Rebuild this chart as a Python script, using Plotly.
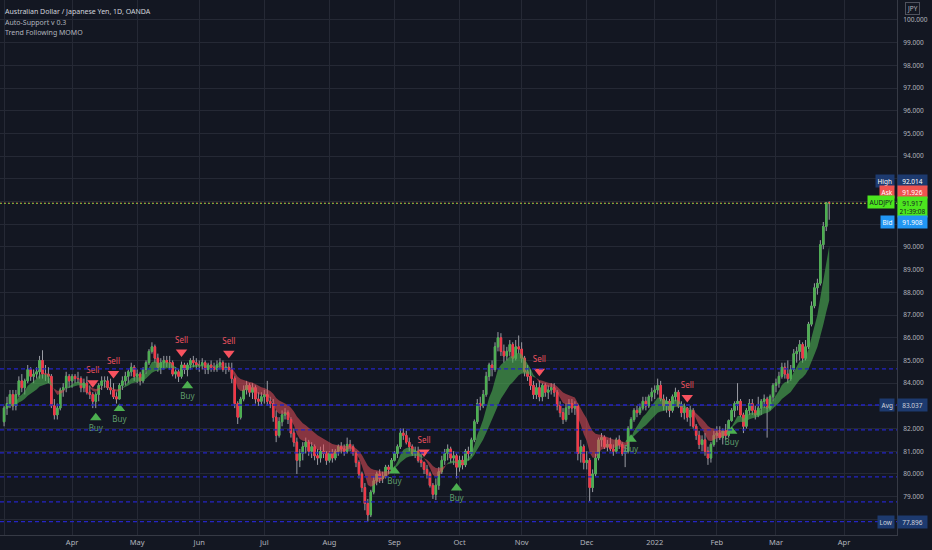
import plotly.graph_objs as go
import pandas as pd

# AUDJPY daily, OANDA, 1 Mar 2021 - 25 Mar 2022 (weekdays only)
days = pd.bdate_range('2021-03-01', '2022-03-25')

open_ = [
    82.3, 82.9, 83.1, 83.5, 83.0, 83.5, 84.1, 83.8, 84.1, 84.6, 84.3, 84.4, 84.5, 85.0, 84.4, 84.4, 84.3, 83.0, 82.6, 82.9, 83.7, 83.8, 84.3,
    84.1, 84.3, 84.2, 84.2, 83.8, 84.0, 83.6, 83.5, 83.2, 83.5, 83.9, 84.1, 84.1, 83.8, 83.7, 83.4, 83.3, 83.9, 84.1, 84.3, 84.5, 84.7,
    84.3, 84.4, 84.1, 84.6, 84.9, 85.4, 85.6, 85.1, 84.7, 84.9, 85.0, 84.9, 84.9, 84.4, 84.5, 84.3, 84.8, 84.6, 84.8, 85.0, 84.9,
    84.8, 84.8, 84.9, 84.6, 84.8, 84.7, 84.6, 84.8, 84.9, 84.6, 84.7, 84.6, 84.2, 83.1, 82.5, 83.3, 83.7, 83.9, 83.6, 83.8, 83.3, 83.2,
    83.4, 83.5, 83.2, 83.1, 82.5, 81.7, 82.3, 82.6, 82.7, 82.4, 81.8, 81.4, 80.6, 80.9, 81.2, 81.4, 81.0, 81.2, 80.8, 80.7, 81.0, 80.9,
    80.6, 80.9, 80.7, 81.0, 81.2, 81.1, 81.0, 81.3, 81.2, 80.9, 80.5, 80.0, 79.4, 78.7, 78.2, 79.2, 79.7, 80.0, 79.8, 79.9, 80.3, 80.2,
    80.6, 80.9, 81.2, 81.8, 81.7, 81.4, 81.2, 80.9, 81.0, 80.6, 80.5, 80.2, 80.0, 79.5, 79.1, 79.5, 80.1, 80.6, 80.9, 81.1, 80.7, 80.8,
    80.3, 80.6, 80.4, 81.0, 80.9, 81.5, 82.3, 83.1, 83.0, 83.5, 84.3, 84.8, 84.6, 85.6, 86.0, 85.4, 85.2, 85.4, 85.7, 85.1, 85.6,
    85.5, 85.1, 84.5, 84.3, 83.9, 83.5, 83.8, 83.4, 83.9, 83.6, 83.7, 83.8, 83.6, 83.0, 82.7, 82.4, 82.9, 83.1, 82.9, 83.0, 80.9, 81.2,
    80.5, 80.6, 79.4, 80.0, 80.7, 81.5, 81.6, 81.2, 81.3, 81.1, 81.0, 81.5, 81.3, 80.9, 81.0, 82.0, 82.4, 82.8, 82.7, 82.9, 83.2, 83.0, 83.4,
    83.6, 83.7, 83.9, 83.3, 83.0, 83.2, 82.8, 83.4, 83.6, 83.0, 82.7, 82.9, 82.5, 82.8, 82.1, 81.7, 81.3, 81.5, 81.0, 80.7, 81.3,
    81.7, 81.8, 81.6, 81.9, 81.7, 82.35, 82.8, 83.1, 83.2, 82.6, 82.1, 82.8, 83.1, 82.8, 82.6, 82.9, 83.2, 83.3, 82.9, 83.4,
    83.9, 84.0, 84.3, 84.7, 84.4, 84.2, 84.6, 85.3, 85.4, 85.7, 85.1, 85.6, 86.6, 87.4, 88.2, 88.4, 90.1, 90.9, 91.95,
]
high = [
    83.0, 83.4, 83.7, 83.7, 83.7, 84.3, 84.4, 84.2, 84.8, 84.7, 84.6, 84.7, 85.2, 85.45, 84.8, 84.7, 84.4, 83.3, 83.1, 83.8, 84.0, 84.5, 84.4,
    84.4, 84.4, 84.5, 84.3, 84.2, 84.3, 83.9, 83.6, 83.6, 84.0, 84.3, 84.3, 84.3, 84.2, 84.0, 83.6, 84.0, 84.3, 84.5, 84.6, 84.9, 84.8,
    84.6, 84.5, 84.7, 85.0, 85.5, 85.8, 85.7, 85.3, 85.1, 85.2, 85.2, 85.2, 85.0, 84.7, 84.6, 84.95, 84.9, 84.9, 85.1, 85.2, 85.1,
    85.0, 85.1, 85.0, 84.9, 85.0, 84.9, 85.0, 85.1, 85.0, 84.9, 84.9, 84.9, 84.3, 83.2, 83.4, 83.9, 84.1, 84.0, 84.0, 83.9, 83.6, 83.6,
    83.7, 84.1, 83.4, 83.3, 82.8, 82.5, 82.8, 82.9, 82.8, 82.5, 82.0, 81.6, 81.1, 81.4, 81.6, 81.5, 81.4, 81.3, 81.1, 81.2, 81.3, 81.0,
    81.0, 81.1, 81.1, 81.3, 81.4, 81.3, 81.6, 81.5, 81.3, 81.0, 80.6, 80.1, 79.6, 78.9, 79.3, 79.9, 80.1, 80.2, 80.1, 80.4, 80.4, 80.7,
    81.0, 81.3, 82.0, 82.0, 81.9, 81.6, 81.3, 81.2, 81.2, 80.9, 80.55, 80.4, 80.1, 79.6, 79.8, 80.3, 80.8, 81.1, 81.3, 81.2, 81.0, 80.9,
    80.8, 80.8, 81.1, 81.2, 81.6, 82.4, 83.3, 83.4, 83.7, 84.5, 84.9, 85.0, 85.8, 86.25, 86.2, 85.7, 85.6, 85.9, 85.8, 85.9, 86.1,
    85.8, 85.2, 84.8, 84.6, 84.1, 84.0, 84.1, 84.0, 84.0, 83.9, 84.0, 84.0, 83.7, 83.2, 82.9, 83.1, 83.3, 83.3, 83.2, 83.1, 81.5, 81.3,
    81.0, 80.7, 80.2, 80.9, 81.6, 81.8, 81.7, 81.5, 81.6, 81.3, 81.6, 81.7, 81.4, 81.2, 82.1, 82.5, 82.9, 83.0, 83.1, 83.4, 83.4, 83.5, 83.8,
    83.9, 84.2, 84.1, 83.5, 83.4, 83.3, 83.5, 83.8, 83.7, 83.2, 83.1, 82.95, 83.0, 82.9, 82.2, 81.9, 81.7, 81.8, 81.2, 81.4, 81.9,
    82.1, 82.1, 82.0, 82.2, 82.4, 82.9, 83.2, 84.0, 83.3, 82.7, 82.9, 83.3, 83.3, 83.0, 83.4, 83.3, 83.5, 83.4, 83.5, 84.0,
    84.2, 84.5, 84.9, 84.9, 85.0, 84.8, 85.5, 85.6, 85.9, 85.8, 85.9, 86.7, 87.6, 88.4, 88.6, 90.3, 91.1, 91.98, 92.014,
]
low = [
    82.1, 82.6, 82.9, 82.8, 82.8, 83.4, 83.6, 83.5, 84.0, 84.1, 84.0, 84.2, 84.2, 84.2, 84.1, 84.0, 82.9, 82.4, 82.4, 82.8, 83.4, 83.6, 83.8,
    83.8, 84.0, 84.0, 83.6, 83.6, 83.5, 83.3, 82.9, 82.9, 83.2, 83.7, 83.8, 83.7, 83.5, 83.3, 83.1, 83.3, 83.7, 83.9, 84.0, 84.3, 84.1,
    84.0, 83.9, 84.0, 84.4, 84.8, 85.3, 84.9, 84.5, 84.4, 84.6, 84.7, 84.6, 84.3, 84.2, 84.05, 84.2, 84.4, 84.3, 84.6, 84.7, 84.6,
    84.5, 84.6, 84.4, 84.4, 84.5, 84.5, 84.5, 84.6, 84.5, 84.4, 84.5, 84.0, 82.9, 82.2, 82.4, 83.2, 83.5, 83.4, 83.3, 83.1, 83.0, 83.0,
    83.1, 83.0, 82.9, 82.3, 81.4, 81.6, 82.1, 82.4, 82.2, 81.6, 81.2, 80.0, 80.3, 80.6, 80.9, 80.8, 80.7, 80.6, 80.4, 80.5, 80.7, 80.4,
    80.5, 80.5, 80.6, 80.8, 80.9, 80.8, 80.9, 81.0, 80.8, 80.3, 79.8, 79.2, 78.4, 77.896, 78.1, 79.1, 79.5, 79.6, 79.6, 79.8, 80.0, 80.1,
    80.55, 80.7, 81.1, 81.5, 81.3, 81.0, 80.8, 80.7, 80.5, 80.3, 80.0, 79.8, 79.4, 78.9, 78.85, 79.3, 80.0, 80.4, 80.6, 80.5, 80.4, 79.8,
    80.1, 80.2, 80.3, 80.6, 80.8, 81.4, 82.2, 82.8, 82.9, 83.4, 84.1, 84.3, 84.5, 85.4, 85.2, 84.9, 85.0, 85.2, 84.9, 85.0, 85.3,
    84.9, 84.3, 84.1, 83.7, 83.3, 83.3, 83.2, 83.2, 83.4, 83.3, 83.5, 83.4, 82.8, 82.5, 82.2, 82.3, 82.6, 82.7, 82.6, 80.6, 80.5, 80.2,
    80.2, 78.8, 79.2, 79.9, 80.6, 81.2, 81.1, 81.0, 81.0, 80.8, 80.9, 81.1, 80.8, 80.3, 80.9, 81.95, 82.3, 82.5, 82.6, 82.8, 82.8, 82.9, 83.2,
    83.3, 83.5, 83.2, 82.8, 82.7, 82.5, 82.7, 83.2, 82.9, 82.5, 82.4, 82.3, 82.1, 82.0, 81.5, 81.1, 81.0, 80.8, 80.4, 80.5, 81.2,
    81.4, 81.5, 81.3, 81.5, 81.6, 82.3, 82.5, 82.8, 82.5, 81.8, 82.0, 82.6, 82.6, 82.4, 82.5, 82.6, 82.9, 81.6, 82.8, 83.2,
    83.6, 83.8, 84.2, 84.2, 84.0, 84.1, 84.5, 84.9, 85.0, 84.9, 85.0, 85.5, 86.5, 87.3, 87.9, 88.3, 89.9, 90.7, 91.2,
]
close = [
    82.9, 83.1, 83.5, 83.0, 83.5, 84.1, 83.8, 84.1, 84.6, 84.3, 84.4, 84.5, 85.0, 84.4, 84.4, 84.3, 83.0, 82.6, 82.9, 83.7, 83.8, 84.3, 84.1,
    84.3, 84.2, 84.2, 83.8, 84.0, 83.6, 83.5, 83.2, 83.5, 83.9, 84.1, 84.1, 83.8, 83.7, 83.4, 83.3, 83.9, 84.1, 84.3, 84.5, 84.7, 84.3,
    84.4, 84.1, 84.6, 84.9, 85.4, 85.6, 85.1, 84.7, 84.9, 85.0, 84.9, 84.9, 84.4, 84.5, 84.3, 84.8, 84.6, 84.8, 85.0, 84.9, 84.8,
    84.8, 84.9, 84.6, 84.8, 84.7, 84.6, 84.8, 84.9, 84.6, 84.7, 84.6, 84.2, 83.1, 82.5, 83.3, 83.7, 83.9, 83.6, 83.8, 83.3, 83.2, 83.4,
    83.5, 83.2, 83.1, 82.5, 81.7, 82.3, 82.6, 82.7, 82.4, 81.8, 81.4, 80.6, 80.9, 81.2, 81.4, 81.0, 81.2, 80.8, 80.7, 81.0, 80.9, 80.6,
    80.9, 80.7, 81.0, 81.2, 81.1, 81.0, 81.3, 81.2, 80.9, 80.5, 80.0, 79.4, 78.7, 78.2, 79.2, 79.7, 80.0, 79.8, 79.9, 80.3, 80.2, 80.6,
    80.9, 81.2, 81.8, 81.7, 81.4, 81.2, 80.9, 81.0, 80.6, 80.5, 80.2, 80.0, 79.5, 79.1, 79.5, 80.1, 80.6, 80.9, 81.1, 80.7, 80.8, 80.3,
    80.6, 80.4, 81.0, 80.9, 81.5, 82.3, 83.1, 83.0, 83.5, 84.3, 84.8, 84.6, 85.6, 86.0, 85.4, 85.2, 85.4, 85.7, 85.1, 85.6, 85.5,
    85.1, 84.5, 84.3, 83.9, 83.5, 83.8, 83.4, 83.9, 83.6, 83.7, 83.8, 83.6, 83.0, 82.7, 82.4, 82.9, 83.1, 82.9, 83.0, 80.9, 81.2, 80.5,
    80.6, 79.4, 80.0, 80.7, 81.5, 81.6, 81.2, 81.3, 81.1, 81.0, 81.5, 81.3, 80.9, 81.0, 82.0, 82.4, 82.8, 82.7, 82.9, 83.2, 83.0, 83.4, 83.6,
    83.7, 83.9, 83.3, 83.0, 83.2, 82.8, 83.4, 83.6, 83.0, 82.7, 82.9, 82.5, 82.8, 82.1, 81.7, 81.3, 81.5, 81.0, 80.7, 81.3, 81.7,
    81.8, 81.6, 81.9, 81.7, 82.35, 82.8, 83.1, 83.2, 82.6, 82.1, 82.8, 83.1, 82.8, 82.6, 82.9, 83.2, 83.3, 82.9, 83.4, 83.9,
    84.0, 84.3, 84.7, 84.4, 84.2, 84.6, 85.3, 85.4, 85.7, 85.1, 85.6, 86.6, 87.4, 88.2, 88.4, 90.1, 90.9, 91.95, 91.917,
]

# Buy / Sell markers of the Trend Following MOMO script
signal_days = ['2021-04-12', '2021-04-13', '2021-04-21', '2021-04-23', '2021-05-24', '2021-05-26', '2021-06-15',
               '2021-09-01', '2021-09-15', '2021-09-30', '2021-11-09', '2021-12-22', '2022-01-18', '2022-02-08']
signal_kind = ['Sell', 'Buy', 'Sell', 'Buy', 'Sell', 'Buy', 'Sell', 'Buy', 'Sell', 'Buy', 'Sell', 'Buy', 'Sell', 'Buy']

# Auto-Support levels
support_levels = [84.63, 83.037, 81.94, 80.93, 79.87, 78.77, 77.896]

month_days = ['2021-03-01', '2021-04-01', '2021-05-03', '2021-06-01', '2021-07-01', '2021-08-02', '2021-09-01',
              '2021-10-01', '2021-11-01', '2021-12-01', '2022-01-03', '2022-02-01', '2022-03-01', '2022-04-01']
month_text = ['Mar', 'Apr', 'May', 'Jun', 'Jul', 'Aug', 'Sep', 'Oct', 'Nov', 'Dec', '2022', 'Feb', 'Mar', 'Apr']

price_ticks = list(range(78, 101))
# labels hidden behind the price badges on the scale
hidden_ticks = [78, 83, 91, 92, 93]

last_price = 91.917
ask_price = 91.926
bid_price = 91.908
high_price = 92.014
low_price = 77.896
avg_price = 83.037

BG = '#131722'
GRID = '#252935'
TXT = '#b2b5be'
UP = '#4caf50'
DOWN = '#f23645'
FONT = 'Noto Sans'

df = pd.DataFrame({'open': open_, 'high': high, 'low': low, 'close': close}, index=days)
df['fast'] = df['close'].ewm(span=7, adjust=False).mean()
df['slow'] = df['close'].ewm(span=18, adjust=False).mean()
df['up'] = df['fast'] >= df['slow']

data = []

# ribbon, split into runs of the same direction
runs = []
start = 0
for i in range(1, len(df) + 1):
    if i == len(df) or df['up'].iloc[i] != df['up'].iloc[start]:
        runs.append((start, i))
        start = i
for s, e in runs:
    seg = df.iloc[s:min(e + 1, len(df))]
    col = 'rgba(76,175,80,0.62)' if df['up'].iloc[s] else 'rgba(232,78,90,0.55)'
    data.append(go.Scatter(x=seg.index, y=seg['slow'], mode='lines', line=dict(width=0),
                           hoverinfo='skip', showlegend=False))
    data.append(go.Scatter(x=seg.index, y=seg['fast'], mode='lines', line=dict(width=0),
                           fill='tonexty', fillcolor=col, hoverinfo='skip', showlegend=False))

# wicks (grey) then coloured bodies on top
data.append(go.Candlestick(x=df.index, open=df['open'], high=df['high'], low=df['low'], close=df['close'],
                           increasing=dict(line=dict(color='#9a9ca4', width=1), fillcolor='#9a9ca4'),
                           decreasing=dict(line=dict(color='#9a9ca4', width=1), fillcolor='#9a9ca4'),
                           whiskerwidth=0, showlegend=False, hoverinfo='skip'))
body_hi = df[['open', 'close']].max(axis=1)
body_lo = df[['open', 'close']].min(axis=1)
data.append(go.Candlestick(x=df.index, open=df['open'], high=body_hi, low=body_lo, close=df['close'],
                           increasing=dict(line=dict(color=UP, width=1), fillcolor=UP),
                           decreasing=dict(line=dict(color=DOWN, width=1), fillcolor=DOWN),
                           whiskerwidth=0, showlegend=False, hoverinfo='skip'))

sig = pd.DataFrame({'kind': signal_kind}, index=pd.to_datetime(signal_days))
sells = sig[sig['kind'] == 'Sell'].index
buys = sig[sig['kind'] == 'Buy'].index
data.append(go.Scatter(x=sells, y=df.loc[sells, 'high'] + 0.42, mode='markers+text', text=['Sell'] * len(sells),
                       textposition='top center', textfont=dict(size=8, color='#ef5360', family=FONT),
                       marker=dict(symbol='triangle-down', size=10, color='#f7525f'),
                       hoverinfo='skip', showlegend=False))
data.append(go.Scatter(x=buys, y=df.loc[buys, 'low'] - 0.42, mode='markers+text', text=['Buy'] * len(buys),
                       textposition='bottom center', textfont=dict(size=8, color='#5f9c6c', family=FONT),
                       marker=dict(symbol='triangle-up', size=10, color='#4caf50'),
                       hoverinfo='skip', showlegend=False))

shapes = []
for lv in support_levels:
    shapes.append(dict(type='line', xref='x domain', x0=0, x1=1, yref='y', y0=lv, y1=lv,
                       line=dict(color='#2525c4', width=1.3, dash='4px,3px'), layer='above'))
shapes.append(dict(type='line', xref='x domain', x0=0, x1=1, yref='y', y0=ask_price, y1=ask_price,
                   line=dict(color='#f0884a', width=1, dash='2px,2px')))
shapes.append(dict(type='line', xref='x domain', x0=0, x1=1, yref='y', y0=last_price, y1=last_price,
                   line=dict(color='#4cd63a', width=1, dash='1px,3px')))

annotations = [
    dict(text='Australian Dollar / Japanese Yen, 1D, OANDA', x=0, y=1, xref='paper', yref='paper',
         xanchor='left', yanchor='top', xshift=3, yshift=-5, showarrow=False,
         font=dict(size=7, color='#d1d4dc', family=FONT)),
    dict(text='Auto-Support v 0.3', x=0, y=1, xref='paper', yref='paper',
         xanchor='left', yanchor='top', xshift=3, yshift=-15.5, showarrow=False,
         font=dict(size=7, color=TXT, family=FONT)),
    dict(text='Trend Following MOMO', x=0, y=1, xref='paper', yref='paper',
         xanchor='left', yanchor='top', xshift=3, yshift=-26, showarrow=False,
         font=dict(size=7, color=TXT, family=FONT)),
    dict(text='JPY', x=1, y=1, xref='paper', yref='paper', xanchor='left', yanchor='top',
         xshift=8, yshift=-2, showarrow=False, bordercolor='#50535e', borderwidth=1, borderpad=1,
         bgcolor=BG, font=dict(size=6.5, color=TXT, family=FONT)),
]


def badge(name, value, price, shift, bg, fg, name_shift=None):
    annotations.append(dict(text=name, x=1, y=price, xref='paper', yref='y', xanchor='right',
                            yshift=shift if name_shift is None else name_shift, xshift=-2,
                            showarrow=False, bgcolor=bg, borderpad=1.5,
                            font=dict(size=6.5, color=fg, family=FONT)))
    annotations.append(dict(text=value, x=1, y=price, xref='paper', yref='y', xanchor='left',
                            yshift=shift, xshift=0, showarrow=False, bgcolor=bg, borderpad=1.5, width=26,
                            font=dict(size=6.5, color=fg, family=FONT)))


badge('High', f'{high_price:.3f}', high_price, 20, '#1d3a6f', '#ffffff')
badge('Ask', f'{ask_price:.3f}', ask_price, 11, '#ef5350', '#ffffff')
badge('AUDJPY', f'{last_price:.3f}<br>21:39:08', last_price, -3.5, '#4ce61e', '#131722', name_shift=1.5)
badge('Bid', f'{bid_price:.3f}', bid_price, -18.5, '#2196f3', '#ffffff')
badge('Avg', f'{avg_price:.3f}', avg_price, 0, '#1d3a6f', '#d1d4dc')
badge('Low', f'{low_price:.3f}', low_price, 0, '#1d3a6f', '#d1d4dc')

layout = go.Layout(
    width=932, height=550,
    margin=dict(l=0, r=35, t=0, b=15),
    paper_bgcolor=BG, plot_bgcolor=BG,
    showlegend=False, hovermode=False,
    xaxis=dict(type='date', range=['2021-02-25 15:00', '2022-04-26 22:00'],
               rangebreaks=[dict(bounds=['sat', 'mon'])],
               rangeslider=dict(visible=False),
               tickvals=month_days, ticktext=month_text,
               showgrid=True, gridcolor=GRID, gridwidth=1,
               showline=True, linecolor='#363a45', linewidth=1,
               ticks='', tickfont=dict(size=7.5, color=TXT, family=FONT),
               zeroline=False, fixedrange=True),
    yaxis=dict(side='right', range=[77.31, 100.88],
               tickvals=price_ticks,
               ticktext=['' if t in hidden_ticks else f'{t:.3f}' for t in price_ticks],
               showgrid=True, gridcolor=GRID, gridwidth=1,
               showline=True, linecolor='#363a45', linewidth=1,
               ticks='', ticklabelstandoff=4, tickfont=dict(size=6.5, color=TXT, family=FONT),
               zeroline=False, fixedrange=True),
    shapes=shapes,
    annotations=annotations,
)

fig = go.Figure(data, layout)
# page body has a default 8px margin that pushes the figure off the window
fig.write_html('out.html', config={'displayModeBar': False},
               post_script="document.body.style.margin='0px';")
